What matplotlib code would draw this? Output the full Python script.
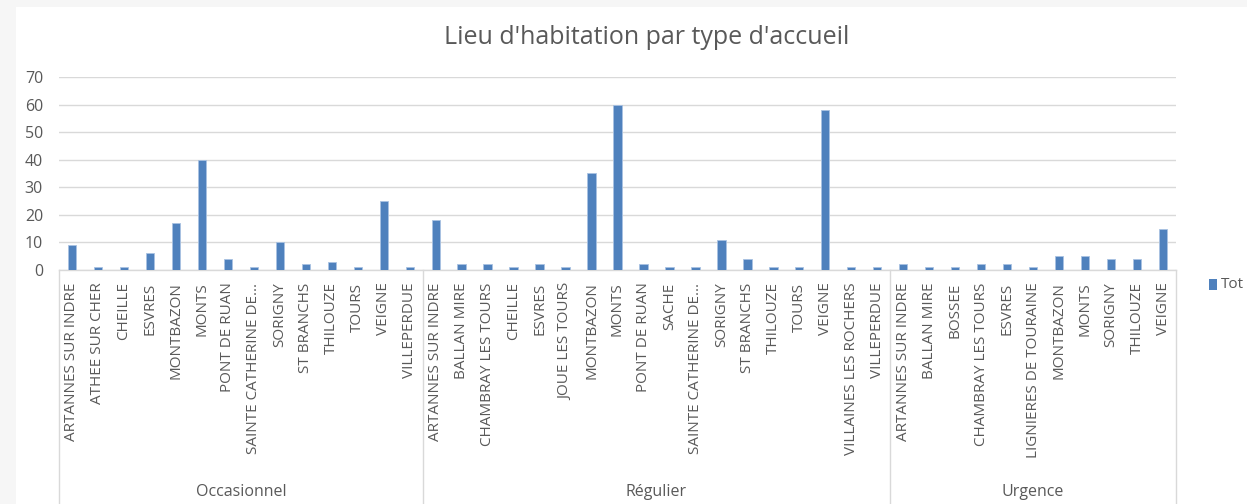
import matplotlib as mpl
import matplotlib.pyplot as plt
import numpy as np
from matplotlib.transforms import blended_transform_factory


mpl.rcParams.update(
    {
        "font.family": ["Open Sans", "DejaVu Sans"],
        "figure.facecolor": "white",
        "savefig.facecolor": "white",
    }
)

COL = {
    "bar": "#4F81BD",
    "edge": "#A9C2E2",
    "grid": "#D9D9D9",
    "text": "#595959",
    "frame": "#F6F6F6",
}

TITLE = "Lieu d'habitation par type d'accueil"
LEGEND_LABEL = "Tot"

GROUPS = ["Occasionnel", "Régulier", "Urgence"]

OCCASIONNEL_LIEUX = [
    "ARTANNES SUR INDRE", "ATHEE SUR CHER", "CHEILLE", "ESVRES", "MONTBAZON",
    "MONTS", "PONT DE RUAN", "SAINTE CATHERINE DE...", "SORIGNY", "ST BRANCHS",
    "THILOUZE", "TOURS", "VEIGNE", "VILLEPERDUE",
]
OCCASIONNEL_VALS = [9, 1, 1, 6, 17, 40, 4, 1, 10, 2, 3, 1, 25, 1]

REGULIER_LIEUX = [
    "ARTANNES SUR INDRE", "BALLAN MIRE", "CHAMBRAY LES TOURS", "CHEILLE", "ESVRES",
    "JOUE LES TOURS", "MONTBAZON", "MONTS", "PONT DE RUAN", "SACHE",
    "SAINTE CATHERINE DE...", "SORIGNY", "ST BRANCHS", "THILOUZE", "TOURS",
    "VEIGNE", "VILLAINES LES ROCHERS", "VILLEPERDUE",
]
REGULIER_VALS = [18, 2, 2, 1, 2, 1, 35, 60, 2, 1, 1, 11, 4, 1, 1, 58, 1, 1]

URGENCE_LIEUX = [
    "ARTANNES SUR INDRE", "BALLAN MIRE", "BOSSEE", "CHAMBRAY LES TOURS", "ESVRES",
    "LIGNIERES DE TOURAINE", "MONTBAZON", "MONTS", "SORIGNY", "THILOUZE", "VEIGNE",
]
URGENCE_VALS = [2, 1, 1, 2, 2, 1, 5, 5, 4, 4, 15]

Y_TICKS = [0, 10, 20, 30, 40, 50, 60, 70]


def main():
    lieux = OCCASIONNEL_LIEUX + REGULIER_LIEUX + URGENCE_LIEUX
    vals = OCCASIONNEL_VALS + REGULIER_VALS + URGENCE_VALS
    sizes = [len(OCCASIONNEL_LIEUX), len(REGULIER_LIEUX), len(URGENCE_LIEUX)]
    x = np.arange(len(lieux))

    fig = plt.figure(figsize=(12.47, 5.04), dpi=100)
    # light grey screenshot border on the left and top
    fig.patches.append(mpl.patches.Rectangle((0, 0), 16 / 1247, 1, transform=fig.transFigure,
                                             facecolor=COL["frame"], edgecolor="none", zorder=0))
    fig.patches.append(mpl.patches.Rectangle((0, 1 - 7 / 504), 1, 7 / 504, transform=fig.transFigure,
                                             facecolor=COL["frame"], edgecolor="none", zorder=0))

    ax = fig.add_axes([59 / 1247, 1 - 270 / 504, (1176 - 59) / 1247, (270 - 77) / 504])
    ax.bar(x, vals, width=0.32, color=COL["bar"], edgecolor=COL["edge"], linewidth=0.6, zorder=3)
    ax.set_xlim(-0.5, len(lieux) - 0.5)
    ax.set_ylim(0, 70)
    ax.set_yticks(Y_TICKS)
    ax.set_yticklabels([str(v) for v in Y_TICKS])
    ax.grid(axis="y", color=COL["grid"], linewidth=1.0, zorder=0)
    ax.set_xticks(x)
    ax.set_xticklabels(lieux, rotation=90, fontsize=11, color=COL["text"])
    ax.tick_params(axis="x", length=0, pad=9)
    ax.tick_params(axis="y", length=0, pad=11.5, labelsize=11.5, labelcolor=COL["text"])
    for side in ["top", "right", "left"]:
        ax.spines[side].set_visible(False)
    ax.spines["bottom"].set_color(COL["grid"])
    ax.spines["bottom"].set_linewidth(1.0)

    # group separators and labels below the axis
    trans = blended_transform_factory(ax.transData, fig.transFigure)
    bottom = 1 - 270 / 504
    edges = np.concatenate([[0], np.cumsum(sizes)]) - 0.5
    for e in edges:
        ax.plot([e, e], [0, bottom], transform=trans, color=COL["grid"], linewidth=1.0, clip_on=False)
    for name, a, b in zip(GROUPS, edges[:-1], edges[1:]):
        ax.text((a + b) / 2, 12 / 504, name, transform=trans, ha="center", va="center",
                fontsize=11.5, color=COL["text"])

    fig.text(647 / 1247, 1 - 37 / 504, TITLE, ha="center", va="center", fontsize=18, color=COL["text"])

    # legend marker and label at the right edge
    fig.patches.append(mpl.patches.Rectangle((1209 / 1247, 1 - 290 / 504), 8 / 1247, 11 / 504,
                                             transform=fig.transFigure, facecolor=COL["bar"],
                                             edgecolor="none"))
    fig.text(1221 / 1247, 1 - 284 / 504, LEGEND_LABEL, ha="left", va="center", fontsize=11,
             color=COL["text"])

    fig.savefig("out.png", dpi=100)
    plt.close(fig)


if __name__ == "__main__":
    main()
